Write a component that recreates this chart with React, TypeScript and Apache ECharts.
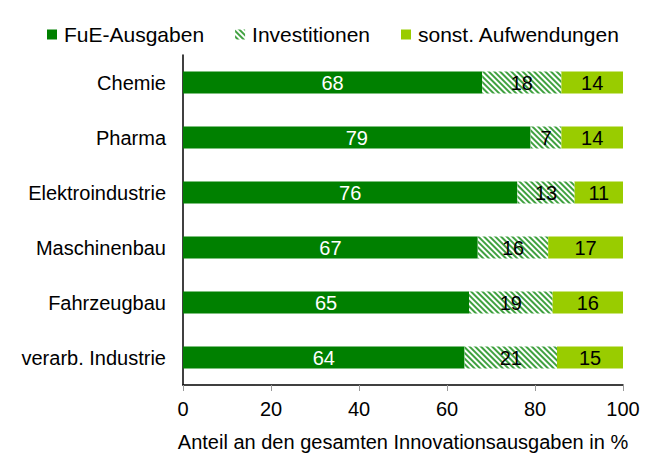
import React, { useEffect, useRef } from "react";
import * as echarts from "echarts";

const categories = ["Chemie", "Pharma", "Elektroindustrie", "Maschinenbau", "Fahrzeugbau", "verarb. Industrie"];
const fue = [68, 79, 76, 67, 65, 64];
const inv = [18, 7, 13, 16, 19, 21];
const sonst = [14, 14, 11, 17, 16, 15];
const xTicks = [0, 20, 40, 60, 80, 100];

const FONT = "'Liberation Sans', Arial, sans-serif";

export default function App() {
  const ref = useRef<HTMLDivElement>(null);
  useEffect(() => {
    document.body.style.margin = "0";
    if (!ref.current) return;
    const chart = echarts.init(ref.current, undefined, { renderer: "svg" });
    const label = (color: string) => ({
      show: true,
      position: "inside" as const,
      color,
      fontSize: 20,
      fontFamily: FONT,
    });
    chart.setOption({
      animation: false,
      textStyle: { fontFamily: FONT },
      legend: {
        top: 19,
        left: 42,
        itemWidth: 10,
        itemHeight: 10,
        itemGap: 31,
        icon: "rect",
        textStyle: { fontSize: 21, color: "#000", fontFamily: FONT, padding: [0, 0, 0, 2] },
        data: ["FuE-Ausgaben", "Investitionen", "sonst. Aufwendungen"],
      },
      grid: { left: 183, right: 27, top: 55, bottom: 70 },
      xAxis: {
        type: "value",
        min: xTicks[0],
        max: xTicks[xTicks.length - 1],
        interval: 20,
        name: "Anteil an den gesamten Innovationsausgaben in %",
        nameLocation: "middle",
        nameGap: 47,
        nameTextStyle: { fontSize: 20, color: "#000", fontFamily: FONT },
        axisLine: { show: true, lineStyle: { color: "#000", width: 1.5 } },
        axisTick: { show: true, length: 6, lineStyle: { color: "#999" } },
        axisLabel: { fontSize: 20, color: "#000", margin: 14, fontFamily: FONT },
        splitLine: { show: false },
      },
      yAxis: {
        type: "category",
        inverse: true,
        data: categories,
        axisLine: { show: true, lineStyle: { color: "#000", width: 1.5 } },
        axisTick: { show: false },
        axisLabel: { fontSize: 20, color: "#000", margin: 17, fontFamily: FONT },
      },
      series: [
        {
          name: "FuE-Ausgaben",
          type: "bar",
          stack: "a",
          barWidth: 22,
          data: fue,
          itemStyle: { color: "#008000" },
          label: label("#fff"),
        },
        {
          name: "Investitionen",
          type: "bar",
          stack: "a",
          barWidth: 22,
          data: inv,
          itemStyle: {
            color: "#ffffff",
            decal: {
              symbol: "rect",
              symbolSize: 1,
              color: "rgba(30,145,30,0.85)",
              dashArrayX: [1, 0],
              dashArrayY: [2, 2],
              rotation: Math.PI / 4,
            },
          },
          label: label("#000"),
        },
        {
          name: "sonst. Aufwendungen",
          type: "bar",
          stack: "a",
          barWidth: 22,
          data: sonst,
          itemStyle: { color: "#99cc00" },
          label: label("#000"),
        },
      ],
    });
    return () => chart.dispose();
  }, []);
  return <div ref={ref} style={{ width: 650, height: 457 }} />;
}
